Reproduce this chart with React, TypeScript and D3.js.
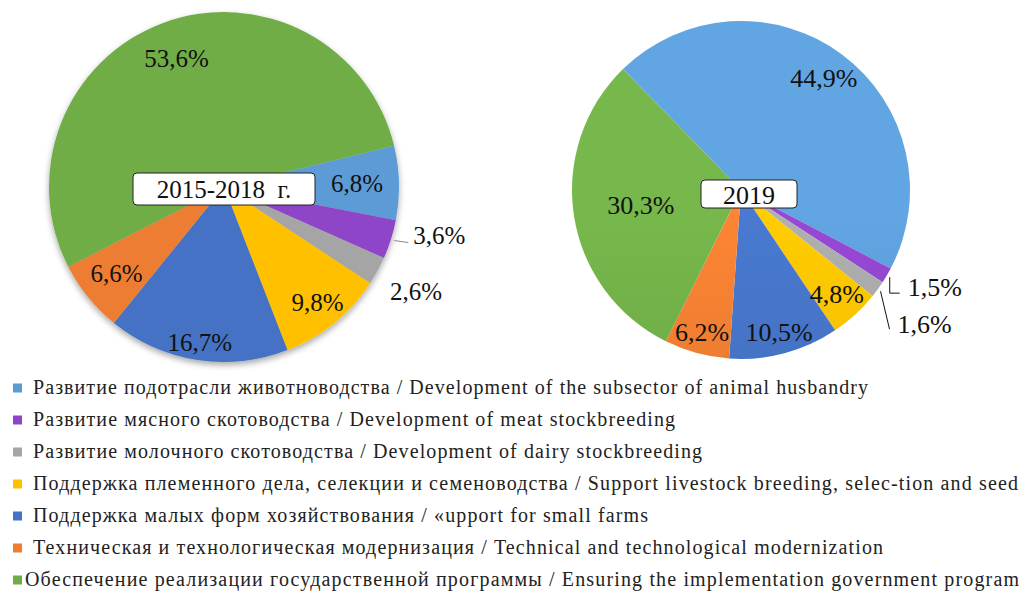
import React from 'react'
import * as d3 from 'd3'

// categories in legend order
const categories = [
  'Развитие подотрасли животноводства / Development of the subsector of animal husbandry',
  'Развитие мясного скотоводства / Development of meat stockbreeding',
  'Развитие молочного скотоводства / Development of dairy stockbreeding',
  'Поддержка племенного дела, селекции и семеноводства / Support livestock breeding, selec-tion and seed',
  'Поддержка малых форм хозяйствования / «upport for small farms',
  'Техническая и технологическая модернизация / Technical and technological modernization',
  'Обеспечение реализации государственной программы / Ensuring the implementation government program',
]

const values2015 = [6.8, 3.6, 2.6, 9.8, 16.7, 6.6, 53.6]
const values2019 = [44.9, 1.5, 1.6, 4.8, 10.5, 6.2, 30.3]

const title2015 = '2015-2018  г.'
const title2019 = '2019'

const colors = ['#5B9BD5', '#8E44C8', '#A5A5A5', '#FFC000', '#4472C4', '#ED7D31', '#70AD47']

// label radius as share of the pie radius; null = outside label with leader
const labelR2015 = [0.76, null, 1.25, 0.85, 0.9, 0.79, 0.78]
const labelR2019 = [0.82, null, null, 0.84, 0.875, 0.875, 0.6]

// legend text widths (the original is stretched a bit)
const legendWidths = [835, 642, 669, 985, 615, 850, 994]

const fmt = (v: number) => v.toFixed(1).replace('.', ',') + '%'
const deg = (a: number) => (a * Math.PI) / 180
const FONT = 'Liberation Serif, Times New Roman, Tinos, Times, DejaVu Serif, Noto Serif, serif'

const polar = (cx: number, cy: number, r: number, a: number) => [cx + r * Math.sin(a), cy - r * Math.cos(a)]

function Pie({ values, cx, cy, r, start, labelR, fontSize, title, boxW, boxH, boxDx, boxDy, gradient, idp, leaders }: any) {
  const pie = d3.pie<number>().sort(null).value(d => d).startAngle(deg(start)).endAngle(deg(start) + Math.PI * 2)
  const arcs = pie(values)
  const arc = d3.arc<d3.PieArcDatum<number>>().innerRadius(0).outerRadius(r)
  return (
    <g>
      <defs>
        {colors.map((c, i) => (
          <linearGradient key={i} id={idp + 'g' + i} gradientUnits="userSpaceOnUse" x1={0} y1={cy - r} x2={0} y2={cy + r}>
            <stop offset="0" stopColor={gradient ? d3.color(c)!.brighter(0.18).toString() : c} />
            <stop offset="1" stopColor={gradient ? d3.color(c)!.darker(0.2).toString() : c} />
          </linearGradient>
        ))}
      </defs>
      <g transform={`translate(${cx},${cy})`} filter={gradient ? undefined : 'url(#shadow)'}>
        {arcs.map((a, i) => (
          <path key={i} d={arc(a) as string} fill={`url(#${idp}g${i})`} />
        ))}
      </g>
      {arcs.map((a, i) => {
        const mid = (a.startAngle + a.endAngle) / 2
        if (labelR[i] == null) {
          const L = leaders[i]
          const [x0, y0] = polar(cx, cy, r * 1.02, mid)
          const pts = L.path.map(([dx, dy]: number[]) => [x0 + dx, y0 + dy])
          const last = pts[pts.length - 1]
          return (
            <g key={i}>
              <path d={d3.line()([[x0, y0], ...pts]) as string} fill="none" stroke={L.stroke} strokeWidth={1} />
              <text x={last[0] + L.tx} y={last[1] + L.ty + fontSize * 0.33} fontFamily={FONT} fontSize={fontSize} fill="#111">
                {fmt(a.data)}
              </text>
            </g>
          )
        }
        const [x, y] = polar(cx, cy, r * labelR[i], mid)
        return (
          <text key={i} x={x} y={y + fontSize * 0.33} textAnchor="middle" fontFamily={FONT} fontSize={fontSize} fill="#111">
            {fmt(a.data)}
          </text>
        )
      })}
      <rect x={cx + boxDx - boxW / 2} y={cy + boxDy - boxH / 2} width={boxW} height={boxH} rx={4} fill="#fff" stroke="#222" strokeWidth={1} />
      <text x={cx + boxDx} y={cy + boxDy + 1 + fontSize * 0.33} textAnchor="middle" fontFamily={FONT} xmlSpace="preserve" fontSize={fontSize} fill="#111">
        {title}
      </text>
    </g>
  )
}

export default function App() {
  const legendY = d3.scaleLinear().domain([0, categories.length - 1]).range([388, 580])
  return (
    <svg width={1022} height={591} fontFamily={FONT} style={{ position: 'absolute', left: 0, top: 0, background: '#fff' }}>
      <defs>
        <filter id="shadow" x="-20%" y="-20%" width="140%" height="140%">
          <feDropShadow dx={0} dy={3} stdDeviation={3} floodColor="#000" floodOpacity={0.35} />
        </filter>
      </defs>
      <rect width={1022} height={591} fill="#fff" />
      <Pie
        values={values2015}
        cx={224}
        cy={187}
        r={175}
        start={76.4}
        labelR={labelR2015}
        fontSize={25}
        title={title2015}
        boxW={182}
        boxH={32}
        boxDx={0}
        boxDy={2}
        gradient={false}
        idp="a"
        leaders={{ 1: { path: [[14, 2]], stroke: '#888', tx: 5, ty: -7 } }}
      />
      <Pie
        values={values2019}
        cx={741}
        cy={190}
        r={169}
        start={-44.3}
        labelR={labelR2019}
        fontSize={26}
        title={title2019}
        boxW={96}
        boxH={28}
        boxDx={8}
        boxDy={4}
        gradient={true}
        idp="b"
        leaders={{
          1: { path: [[0, 16], [10, 16]], stroke: '#111', tx: 8, ty: -6 },
          2: { path: [[9, 38]], stroke: '#111', tx: 8, ty: -5 },
        }}
      />
      {categories.map((c, i) => {
        const y = legendY(i)
        const tx = i === 6 ? 25 : 33
        return (
          <g key={i}>
            <rect x={13} y={y - 4.5} width={9} height={9} fill={colors[i]} />
            <text x={tx} y={y + 6} fontFamily={FONT} fontSize={20} fill="#222" textLength={legendWidths[i]} lengthAdjust="spacing">
              {c}
            </text>
          </g>
        )
      })}
    </svg>
  )
}
